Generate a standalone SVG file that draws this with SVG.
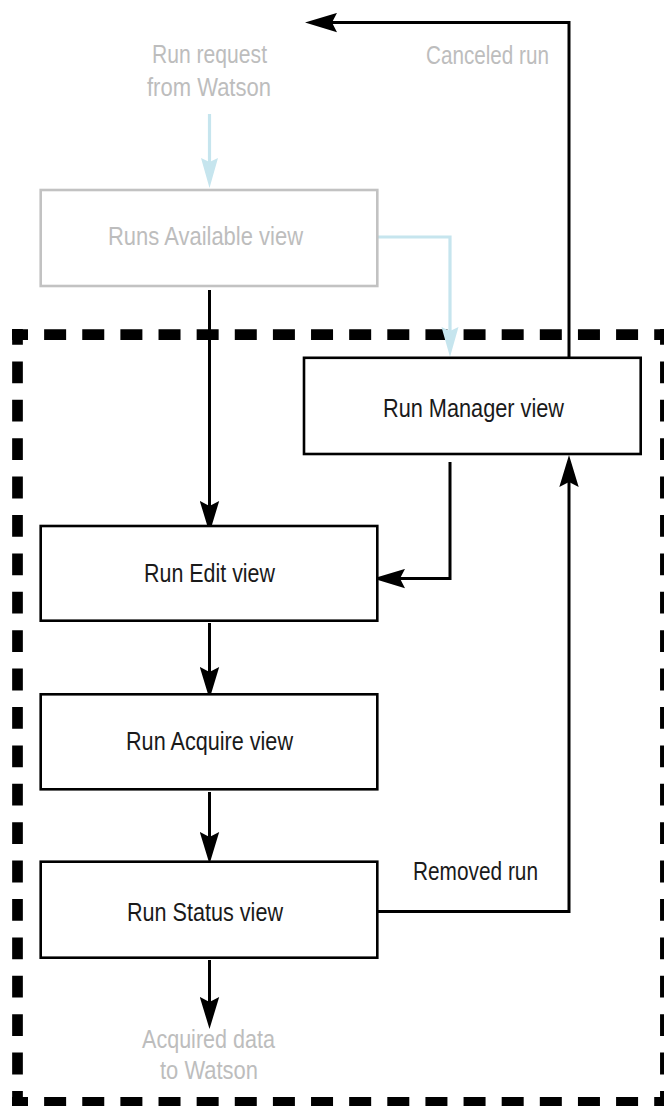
<svg xmlns="http://www.w3.org/2000/svg" width="664" height="1106" viewBox="0 0 664 1106">
  <style>
    .box { fill: #ffffff; stroke: #000000; stroke-width: 2.6; }
    .box-gray { fill: #ffffff; stroke: #c2c2c2; stroke-width: 2.6; }
    .lbl { font-family: "Liberation Sans", Arial, sans-serif; font-size: 25.5px; fill: #1a1a1a; }
    .lbl-gray { font-family: "Liberation Sans", Arial, sans-serif; font-size: 25.5px; fill: #bdbdbd; }
    .conn { fill: none; stroke: #000000; stroke-width: 3; }
    .conn-blue { fill: none; stroke: #c6e5ee; stroke-width: 3.2; }
    .frame { fill: none; stroke: #000000; stroke-width: 10.7; }
  </style>
  <defs>
    <marker id="arrow" markerUnits="userSpaceOnUse" viewBox="0 0 32 20" refX="24" refY="10" markerWidth="32" markerHeight="20" orient="auto">
      <path d="M32,10 L0,0.3 L5,10 L0,19.7 Z" fill="#000000"/>
    </marker>
    <marker id="arrow-blue" markerUnits="userSpaceOnUse" viewBox="0 0 32 20" refX="24" refY="10" markerWidth="32" markerHeight="20" orient="auto">
      <path d="M32,10 L2,1.5 L6,10 L2,18.5 Z" fill="#c6e5ee"/>
    </marker>
  </defs>

  <!-- dashed boundary -->
  <g id="boundary">
    <path class="frame" d="M12,334.7 H670" stroke-dasharray="22 16.13" stroke-dashoffset="6"/>
    <path class="frame" d="M12,1102.4 H670" stroke-dasharray="22 16.13" stroke-dashoffset="6"/>
    <path class="frame" d="M17.5,329 V1108" stroke-dasharray="21.8 16.6" stroke-dashoffset="6"/>
    <path class="frame" d="M665.4,329 V1108" stroke-dasharray="21.8 16.6" stroke-dashoffset="6"/>
  </g>

  <!-- connectors -->
  <g id="connectors">
    <path class="conn" d="M569,358 V22.6 H313" marker-end="url(#arrow)"/>
    <path class="conn-blue" d="M209.5,114 V180" marker-end="url(#arrow-blue)"/>
    <path class="conn-blue" d="M377,237 H450 V349" marker-end="url(#arrow-blue)"/>
    <path class="conn" d="M209.5,290 V525" marker-end="url(#arrow)"/>
    <path class="conn" d="M450,462 V578.6 H381" marker-end="url(#arrow)"/>
    <path class="conn" d="M209.5,623 V691" marker-end="url(#arrow)"/>
    <path class="conn" d="M209.5,792 V856" marker-end="url(#arrow)"/>
    <path class="conn" d="M377,911.5 H569 V463" marker-end="url(#arrow)"/>
    <path class="conn" d="M209.5,960 V1021" marker-end="url(#arrow)"/>
  </g>

  <g id="label-canceled">
    <text class="lbl-gray" x="426" y="64" textLength="123" lengthAdjust="spacingAndGlyphs">Canceled run</text>
  </g>
  <g id="source-watson">
    <text class="lbl-gray" x="152" y="63.3" textLength="115" lengthAdjust="spacingAndGlyphs">Run request</text>
    <text class="lbl-gray" x="147" y="96" textLength="124" lengthAdjust="spacingAndGlyphs">from Watson</text>
  </g>
  <g id="node-runs-available">
    <rect class="box-gray" x="40.7" y="190" width="336.6" height="96"/>
    <text class="lbl-gray" x="108" y="245" textLength="195" lengthAdjust="spacingAndGlyphs">Runs Available view</text>
  </g>
  <g id="node-run-manager">
    <rect class="box" x="304" y="357.8" width="336.7" height="96.2"/>
    <text class="lbl" x="383" y="416.7" textLength="181" lengthAdjust="spacingAndGlyphs">Run Manager view</text>
  </g>
  <g id="node-run-edit">
    <rect class="box" x="40.7" y="526" width="336.6" height="94.7"/>
    <text class="lbl" x="144" y="581.7" textLength="131" lengthAdjust="spacingAndGlyphs">Run Edit view</text>
  </g>
  <g id="node-run-acquire">
    <rect class="box" x="40.7" y="694.3" width="336.6" height="95"/>
    <text class="lbl" x="126" y="750" textLength="167" lengthAdjust="spacingAndGlyphs">Run Acquire view</text>
  </g>
  <g id="node-run-status">
    <rect class="box" x="40.7" y="861.7" width="336.6" height="96"/>
    <text class="lbl" x="127" y="920.7" textLength="156" lengthAdjust="spacingAndGlyphs">Run Status view</text>
  </g>
  <g id="label-removed">
    <text class="lbl" x="413" y="880" textLength="125" lengthAdjust="spacingAndGlyphs">Removed run</text>
  </g>
  <g id="sink-watson">
    <text class="lbl-gray" x="142" y="1048.3" textLength="133" lengthAdjust="spacingAndGlyphs">Acquired data</text>
    <text class="lbl-gray" x="160" y="1079" textLength="98" lengthAdjust="spacingAndGlyphs">to Watson</text>
  </g>
</svg>
